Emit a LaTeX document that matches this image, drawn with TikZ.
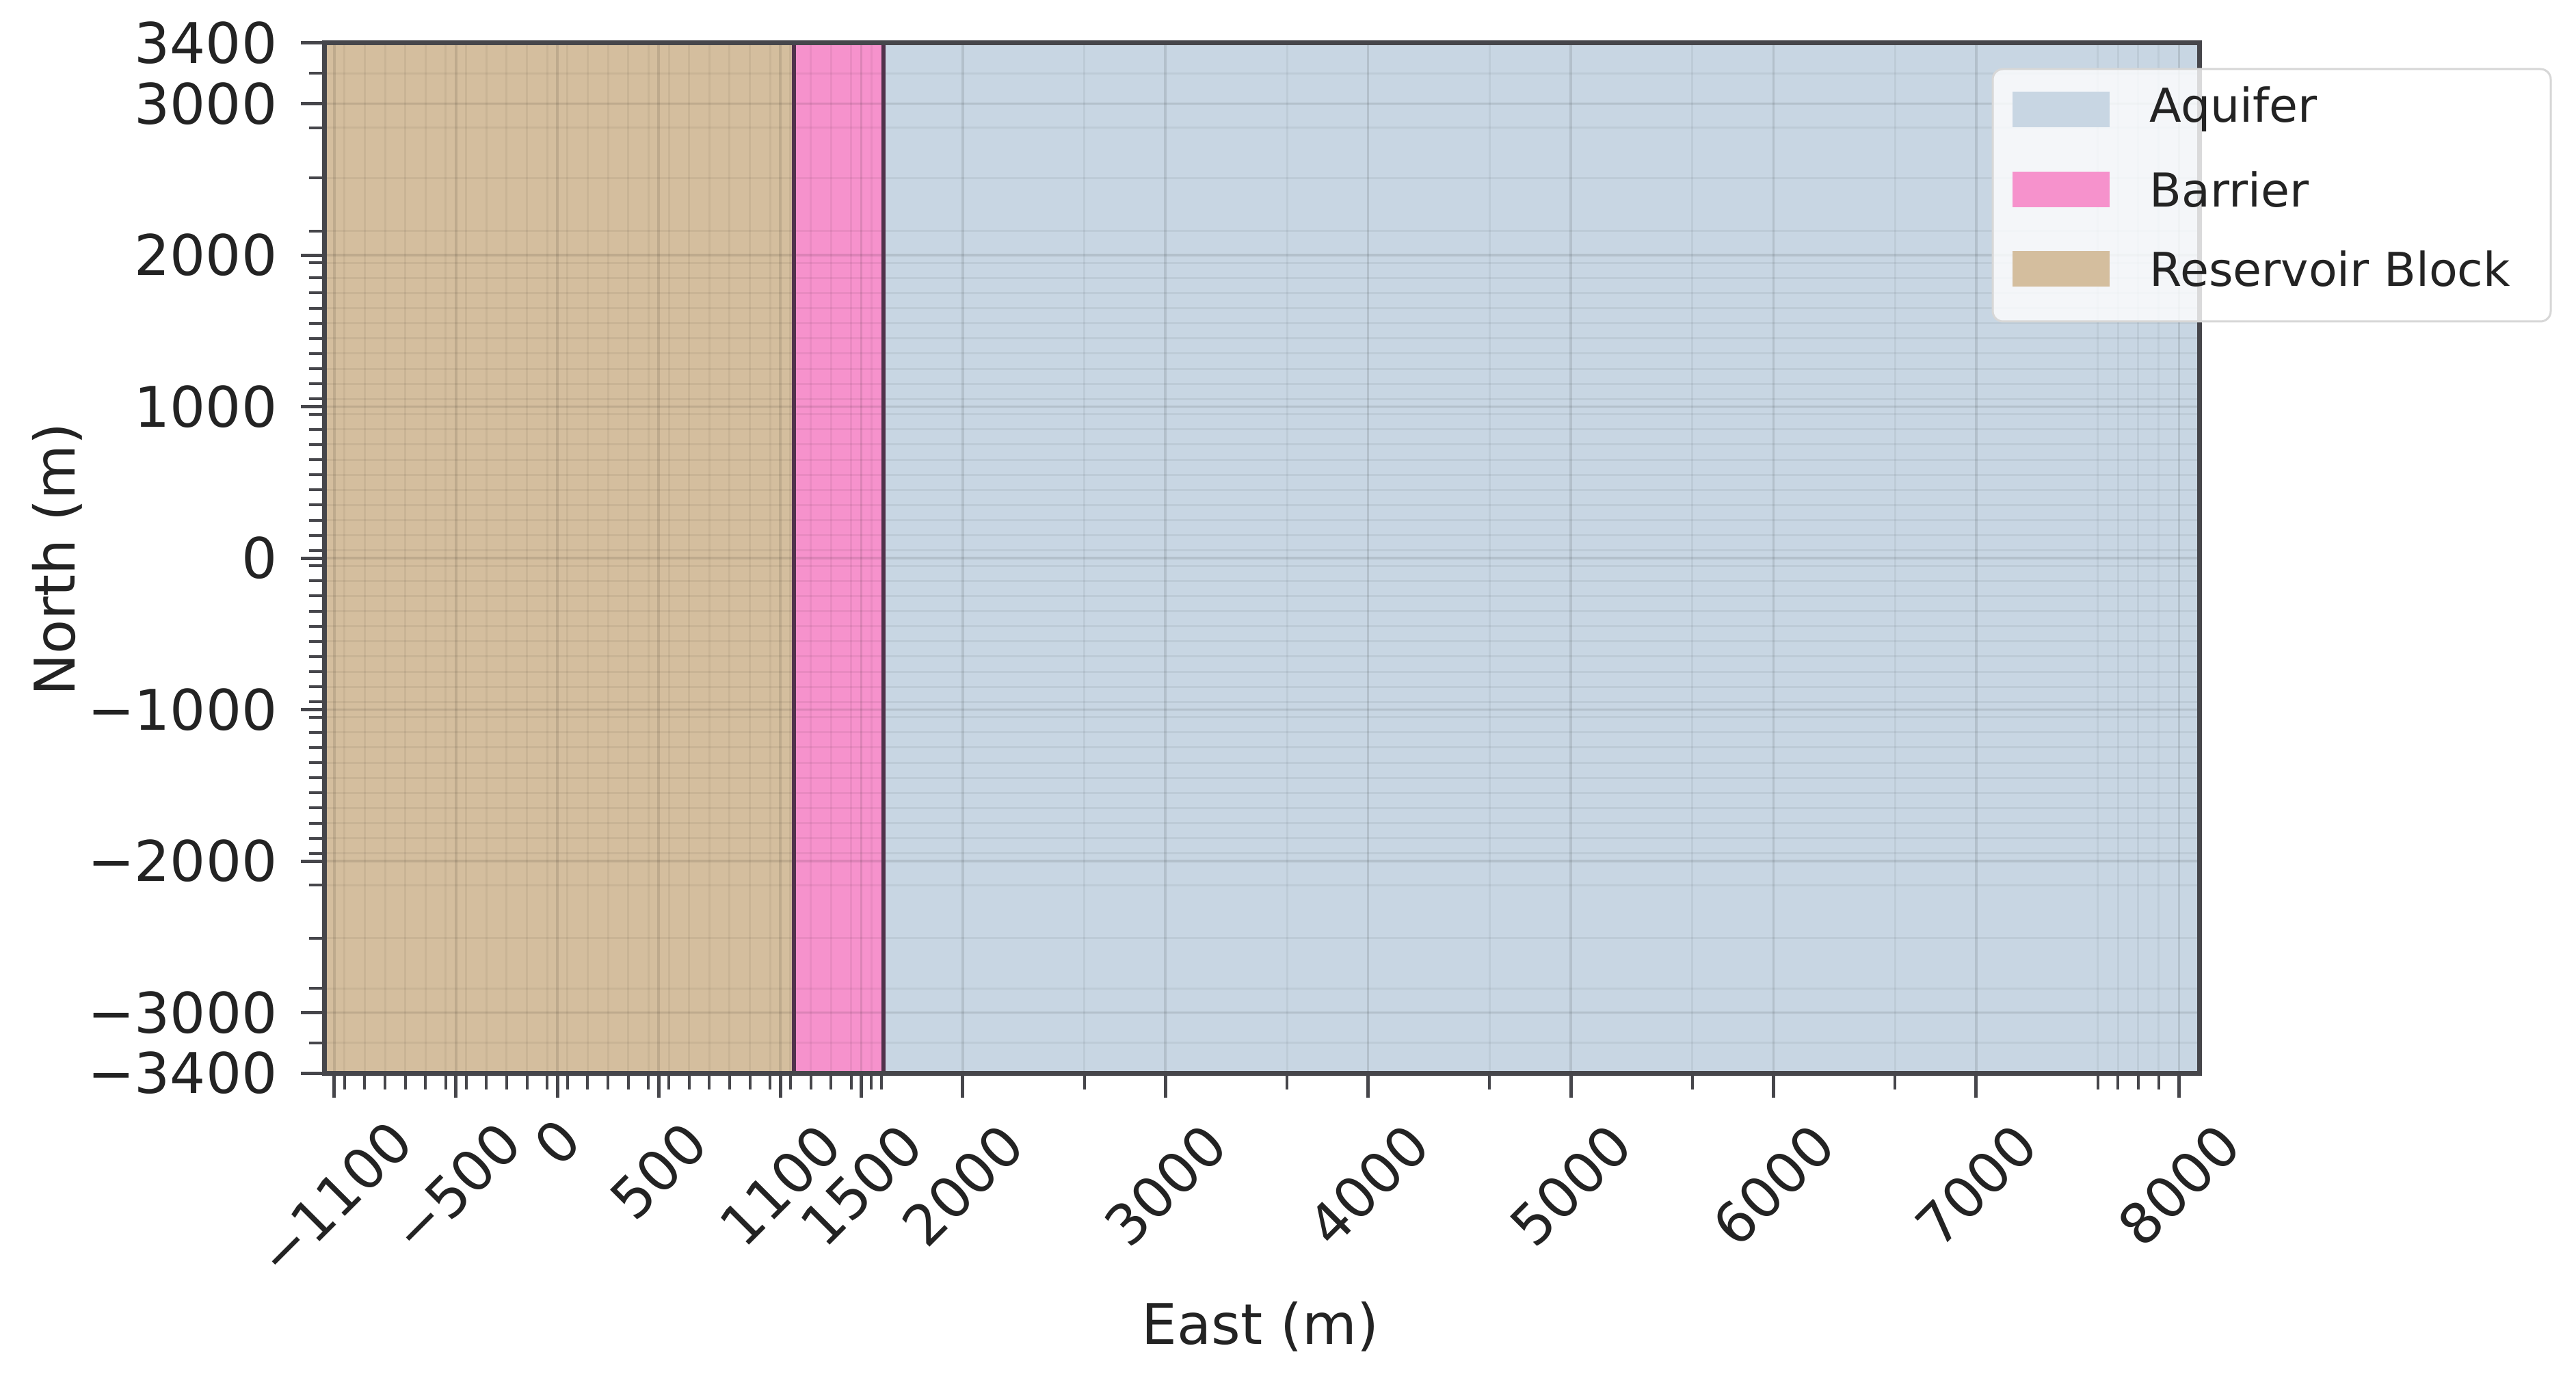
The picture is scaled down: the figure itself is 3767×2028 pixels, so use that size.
\documentclass[tikz,border=0pt]{standalone}
\usepackage{fontspec}
\setmainfont{DejaVu Sans}
\definecolor{rescol}{RGB}{212,190,158}
\definecolor{barcol}{RGB}{246,146,204}
\definecolor{aqcol}{RGB}{200,214,227}
\definecolor{spinecol}{RGB}{70,70,75}
\definecolor{edgecol}{RGB}{80,50,75}
\definecolor{labcol}{RGB}{35,35,35}
\definecolor{legedge}{RGB}{215,215,215}
\begin{document}
\begin{tikzpicture}[x=0.01cm,y=-0.01cm,
  spine/.style={draw=spinecol,line width=0.07cm},
  majtick/.style={draw=spinecol,line width=0.05cm},
  mintick/.style={draw=spinecol,line width=0.04cm},
  gridmaj/.style={draw=black,draw opacity=0.10,line width=0.035cm},
  gridmin/.style={draw=black,draw opacity=0.05,line width=0.03cm},
  ticklab/.style={font=\fontsize{23.3}{28}\selectfont,text=labcol,inner sep=0pt},
  leglab/.style={font=\fontsize{19.4}{23}\selectfont,text=labcol,inner sep=0pt,anchor=west},
  legpatch/.style={minimum width=1.42cm,minimum height=0.52cm,inner sep=0pt,draw=none}]
\useasboundingbox (0,0) rectangle (3767,2028);
\fill[white] (0,0) rectangle (3767,2028);
% regions
\fill[rescol] (474,63) rectangle (1161,1569);
\fill[barcol] (1161,63) rectangle (1292,1569);
\fill[aqcol] (1292,63) rectangle (3216,1569);
% grid lines
\foreach \e in {-1100,-500,0,500,1100,1500,2000,3000,4000,5000,6000,7000,8000}
  \draw[gridmaj] ({815+0.2964*\e},63) -- ({815+0.2964*\e},1569);
\foreach \e in {-1050,-950,...,1550,1600,2600,3600,4600,5600,6600,7600,7700,7800,7900}
  \draw[gridmin] ({815+0.2964*\e},63) -- ({815+0.2964*\e},1569);
\foreach \n in {3400,3000,2000,1000,0,-1000,-2000,-3000,-3400}
  \draw[gridmaj] (474,{816-0.2215*\n}) -- (3216,{816-0.2215*\n});
\foreach \n in {-1950,-1850,...,1950,2160,2510,2840,3200,-2160,-2510,-2840,-3200}
  \draw[gridmin] (474,{816-0.2215*\n}) -- (3216,{816-0.2215*\n});
% region edges
\draw[edgecol,line width=0.06cm] (1161,63) -- (1161,1569);
\draw[edgecol,line width=0.06cm] (1292,63) -- (1292,1569);
% spines
\draw[spine] (474,63) rectangle (3216,1569);
% x ticks
\foreach \e in {-1100,-500,0,500,1100,1500,2000,3000,4000,5000,6000,7000,8000}
  \draw[majtick] ({815+0.2964*\e},1569) -- ++(0,36);
\foreach \e in {-1050,-950,...,1550,1600,2600,3600,4600,5600,6600,7600,7700,7800,7900}
  \draw[mintick] ({815+0.2964*\e},1569) -- ++(0,24);
% y ticks
\foreach \n in {3400,3000,2000,1000,0,-1000,-2000,-3000,-3400}
  \draw[majtick] (474,{816-0.2215*\n}) -- ++(-34,0);
\foreach \n in {-1950,-1850,...,1950,2160,2510,2840,3200,-2160,-2510,-2840,-3200}
  \draw[mintick] (474,{816-0.2215*\n}) -- ++(-22,0);
% y tick labels
\foreach \n/\t [count=\i] in {3400/3400,3000/3000,2000/2000,1000/1000,0/0,-1000/−1000,-2000/−2000,-3000/−3000,-3400/−3400}
  \node[ticklab,anchor=east] (ylab\i) at (406,{816-0.2215*\n}) {\t};
% x tick labels
\node[ticklab,rotate=45] (xl1) at (489,1752) {−1100};
\node[ticklab,rotate=45] (xl2) at (667,1736) {−500};
\node[ticklab,rotate=45] (xl3) at (815,1670) {0};
\node[ticklab,rotate=45] (xl4) at (963,1712) {500};
\foreach \e [count=\i] in {1100,1500,2000,3000,4000,5000,6000,7000,8000}
  \node[ticklab,rotate=45] (xm\i) at ({815+0.2964*\e},1733) {\e};
% axis labels
\node[ticklab,rotate=90] (ylabel) at (84,818) {North (m)};
\node[ticklab] (xlabel) at (1843,1940) {East (m)};
% legend
\draw[legedge,line width=0.03cm,fill=white,fill opacity=0.8,rounded corners=0.15cm] (2914,101) rectangle (3730,470);
\node[legpatch,fill=aqcol] (pa) at (3014,160) {};
\node[legpatch,fill=barcol] (pb) at (3014,277) {};
\node[legpatch,fill=rescol] (pr) at (3014,393) {};
\node[leglab] (ta) at (3143,160) {Aquifer};
\node[leglab] (tb) at (3143,277) {Barrier};
\node[leglab] (tr) at (3143,393) {Reservoir Block};
\end{tikzpicture}
\end{document}
